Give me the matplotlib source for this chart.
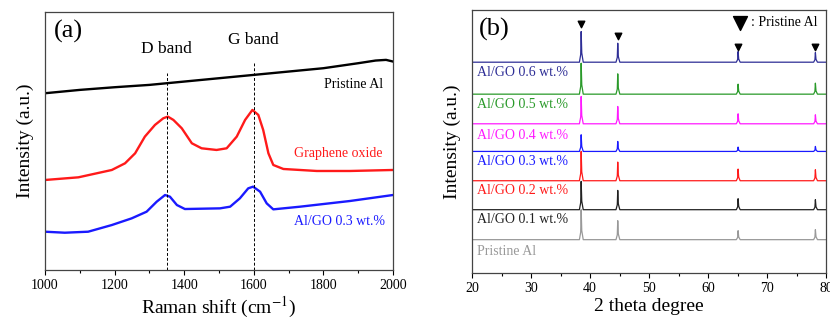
import matplotlib
matplotlib.use('Agg')
import matplotlib.pyplot as plt
import numpy as np

plt.rcParams['font.family'] = ['Liberation Serif', 'DejaVu Serif']
plt.rcParams['mathtext.fontset'] = 'stix'

# ---- (a) Raman spectra, arbitrary intensity units ----
raman_al_x = [1000, 1100, 1200, 1300, 1350, 1400, 1500, 1600, 1700, 1800, 1900, 1950, 1980, 2000]
raman_al_y = [530, 540, 548, 555, 560, 565, 575, 585, 595, 605, 620, 628, 630, 625]

raman_go_x = [1000, 1096, 1192, 1230, 1259, 1287, 1316, 1340, 1353, 1369, 1393, 1422, 1450,
              1493, 1522, 1551, 1575, 1596, 1613, 1627, 1642, 1656, 1685, 1781, 1876, 2000]
raman_go_y = [270, 278, 300, 320, 350, 400, 435, 455, 460, 450, 425, 380, 365,
              360, 365, 400, 450, 480, 465, 420, 350, 315, 303, 297, 297, 300]

raman_comp_x = [1000, 1057, 1124, 1192, 1249, 1292, 1321, 1345, 1359, 1379, 1402, 1503,
                1532, 1560, 1584, 1598, 1618, 1637, 1656, 1733, 1876, 2000]
raman_comp_y = [115, 112, 115, 135, 155, 175, 205, 225, 220, 195, 183, 185,
                190, 215, 245, 250, 235, 200, 182, 190, 207, 225]

band_pos = [1350, 1600]
band_top = [592, 620]
band_names = ['D band', 'G band']

# ---- (b) XRD patterns ----
peak_pos = [38.5, 44.7, 65.1, 78.2]
xrd_labels = ['Pristine Al', 'Al/GO 0.1 wt.%', 'Al/GO 0.2 wt.%', 'Al/GO 0.3 wt.%',
              'Al/GO 0.4 wt.%', 'Al/GO 0.5 wt.%', 'Al/GO 0.6 wt.%']
xrd_colors = ['#999999', '#222222', '#ff1a1a', '#1a1aff', '#ff1aff', '#2a9a2a', '#2e2e96']
xrd_base = [100, 190, 277, 365, 448, 537, 633]
xrd_peaks = [
    [190, 157, 127, 130],   # Pristine Al
    [275, 248, 223, 220],   # 0.1
    [365, 333, 312, 310],   # 0.2
    [415, 395, 378, 380],   # 0.3
    [530, 500, 478, 475],   # 0.4
    [630, 598, 567, 570],   # 0.5
    [725, 690, 665, 662],   # 0.6
]
xrd_label_y = [65, 160, 247, 335, 413, 505, 602]
marker_y = [747, 713, 680, 680]

fig = plt.figure(figsize=(8.3, 3.2), dpi=100)
ax1 = fig.add_axes([0.0542, 0.156, 0.4193, 0.806])
ax2 = fig.add_axes([0.5687, 0.147, 0.4265, 0.822])

# panel a
ax1.plot(raman_al_x, raman_al_y, color='black', lw=1.7, solid_joinstyle='round')
ax1.plot(raman_go_x, raman_go_y, color='#ff1a1a', lw=1.7, solid_joinstyle='round')
ax1.plot(raman_comp_x, raman_comp_y, color='#1a1aff', lw=1.7, solid_joinstyle='round')
for pos, top, name in zip(band_pos, band_top, band_names):
    ax1.plot([pos, pos], [0, top], color='black', lw=0.7, ls=(0, (3, 2)))
    ax1.text(pos, top + 70, name, ha='center', va='center', fontsize=12.5)
ax1.text(1971, 557, 'Pristine Al', ha='right', va='center', fontsize=10)
ax1.text(1971, 348, 'Graphene oxide', ha='right', va='center', fontsize=10, color='#ff1a1a')
ax1.text(1977, 145, 'Al/GO 0.3 wt.%', ha='right', va='center', fontsize=10, color='#1a1aff')
ax1.text(0.025, 0.97, '(a)', transform=ax1.transAxes, ha='left', va='top', fontsize=19)
ax1.set_xlim(1000, 2000)
ax1.set_ylim(0, 773)
ax1.set_xticks(np.arange(1000, 2001, 200))
ax1.set_xticks(np.arange(1100, 2000, 200), minor=True)
ax1.set_yticks([])
ax1.set_xlabel('Raman shift (cm$^{-1}$)', fontsize=14, labelpad=2)
ax1.set_ylabel('Intensity (a.u.)', fontsize=14, labelpad=8)

# panel b
for base, peaks, color, label, ly in zip(xrd_base, xrd_peaks, xrd_colors, xrd_labels, xrd_label_y):
    xs = [20]
    ys = [base]
    for p, h in zip(peak_pos, peaks):
        xs += [p - 0.3, p - 0.08, p, p + 0.1, p + 0.35]
        ys += [base, base + 0.25 * (h - base), h, base + 0.3 * (h - base), base]
    xs.append(80)
    ys.append(base)
    ax2.plot(xs, ys, color=color, lw=0.9)
    ax2.text(20.9, ly, label, ha='left', va='center', fontsize=10, color=color)
ax2.scatter(peak_pos, marker_y, marker='v', s=22, color='black', zorder=5)
ax2.scatter([65.5], [752], marker='v', s=100, color='black', zorder=5)
ax2.text(67.3, 752, ': Pristine Al', ha='left', va='center', fontsize=10)
ax2.text(0.02, 0.97, '(b)', transform=ax2.transAxes, ha='left', va='top', fontsize=19)
ax2.set_xlim(20, 80)
ax2.set_ylim(0, 790)
ax2.set_xticks(np.arange(20, 81, 10))
ax2.set_xticks(np.arange(25, 80, 10), minor=True)
ax2.set_yticks([])
ax2.set_xlabel('2 theta degree', fontsize=14, labelpad=2)
ax2.set_ylabel('Intensity (a.u.)', fontsize=14, labelpad=8)

for ax in (ax1, ax2):
    ax.tick_params(axis='x', which='major', direction='out', length=3.5, width=0.8,
                   labelsize=10, pad=3)
    ax.tick_params(axis='x', which='minor', direction='out', length=2, width=0.8)
    for sp in ax.spines.values():
        sp.set_color('#444444')
        sp.set_linewidth(0.9)

fig.savefig('out.png', dpi=100)
